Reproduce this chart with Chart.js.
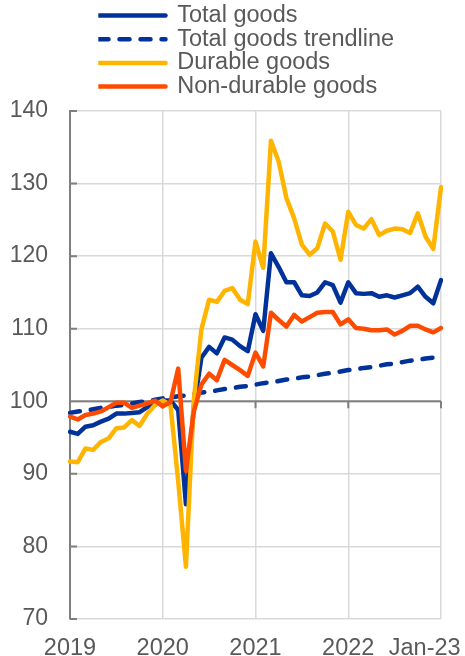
<!DOCTYPE html>
<html>
<head>
<meta charset="utf-8">
<script src="https://cdn.jsdelivr.net/npm/chart.js@4"></script>
<style>
  html, body { margin: 0; padding: 0; background: #fff; }
  #goodsChart { display: block; }
</style>
</head>
<body>
<canvas id="goodsChart" width="465" height="656"></canvas>
<script>
// monthly, Jan 2019 - Jan 2023
const months = [
    'Jan-19', 'Feb-19', 'Mar-19', 'Apr-19', 'May-19', 'Jun-19', 'Jul-19', 'Aug-19', 'Sep-19', 'Oct-19', 'Nov-19', 'Dec-19',
    'Jan-20', 'Feb-20', 'Mar-20', 'Apr-20', 'May-20', 'Jun-20', 'Jul-20', 'Aug-20', 'Sep-20', 'Oct-20', 'Nov-20', 'Dec-20',
    'Jan-21', 'Feb-21', 'Mar-21', 'Apr-21', 'May-21', 'Jun-21', 'Jul-21', 'Aug-21', 'Sep-21', 'Oct-21', 'Nov-21', 'Dec-21',
    'Jan-22', 'Feb-22', 'Mar-22', 'Apr-22', 'May-22', 'Jun-22', 'Jul-22', 'Aug-22', 'Sep-22', 'Oct-22', 'Nov-22', 'Dec-22',
    'Jan-23'
];

const totalGoods = [
    95.8, 95.5, 96.5, 96.7, 97.2, 97.6, 98.3, 98.3, 98.4, 98.5, 99.2, 99.5,
    100.1, 100.1, 98.8, 85.8, 99.0, 106.0, 107.5, 106.6, 108.8, 108.5, 107.6, 106.9,
    112.0, 109.7, 120.4, 118.5, 116.4, 116.4, 114.6, 114.5, 115.0, 116.4, 116.0, 113.6,
    116.4, 114.9, 114.8, 114.9, 114.4, 114.6, 114.3, 114.6, 114.9, 115.8, 114.4, 113.5,
    116.7
];

const totalTrend = [
    98.4, 98.6, 98.7, 98.9, 99.1, 99.2, 99.4, 99.5, 99.7, 99.9, 100.0, 100.2,
    100.4, 100.5, 100.7, 100.8, 101.0, 101.2, 101.3, 101.5, 101.7, 101.8, 102.0, 102.1,
    102.3, 102.5, 102.6, 102.8, 103.0, 103.1, 103.3, 103.4, 103.6, 103.8, 103.9, 104.1,
    104.3, 104.4, 104.6, 104.7, 104.9, 105.1, 105.2, 105.4, 105.6, 105.7, 105.9, 106.0,
    106.2
];

const durableGoods = [
    91.7, 91.6, 93.5, 93.3, 94.4, 94.9, 96.3, 96.4, 97.4, 96.6, 98.3, 99.5,
    100.1, 99.5, 89.0, 77.2, 100.0, 109.9, 114.0, 113.7, 115.2, 115.6, 114.0, 113.4,
    122.0, 118.4, 135.9, 133.0, 128.0, 125.2, 121.6, 120.2, 121.1, 124.5, 123.4, 119.5,
    126.1, 124.3, 123.8, 125.1, 122.9, 123.5, 123.8, 123.7, 123.2, 125.9, 122.7, 121.0,
    129.5
];

const nonDurableGoods = [
    97.9, 97.5, 98.1, 98.3, 98.6, 99.2, 99.8, 99.8, 99.1, 99.4, 99.7, 100.1,
    99.3, 99.9, 104.5, 90.4, 98.5, 102.3, 103.8, 102.9, 105.7, 105.0, 104.3, 103.5,
    106.7, 104.8, 112.2, 111.2, 110.3, 111.9, 111.0, 111.6, 112.2, 112.3, 112.3, 110.6,
    111.3, 110.1, 110.0, 109.8, 109.8, 109.9, 109.2, 109.7, 110.4, 110.4, 109.9, 109.5,
    110.1
];

// x labels only at each January
const tickIdx = [0, 12, 24, 36, 48];
const tickLabels = ['2019', '2020', '2021', '2022', 'Jan-23     '];

const FONT = "'Liberation Sans', Arial, sans-serif";
const TEXT = '#595959';
const AXIS = '#7f7f7f';
const GRID = '#d9d9d9';

// axis line at 100 with ticks pointing down, short inner ticks on the y axis,
// and legend shifted to sit over the plot like the original
const axisPlugin = {
    id: 'axisAt100',
    afterLayout(chart) {
        const lg = chart.legend;
        lg.left += 88.3; lg.right += 88.3;
        lg.top -= 2.65; lg.bottom -= 2.65;
    },
    beforeDatasetsDraw(chart) {
        const { ctx, chartArea, scales: { x, y } } = chart;
        const y100 = y.getPixelForValue(100);
        ctx.save();
        ctx.strokeStyle = AXIS;
        ctx.lineWidth = 2;
        ctx.beginPath();
        ctx.moveTo(chartArea.left, y100);
        ctx.lineTo(chartArea.right, y100);
        tickIdx.forEach(i => {
            const px = x.getPixelForValue(i);
            ctx.moveTo(px, y100);
            ctx.lineTo(px, y100 + 7);
        });
        y.ticks.forEach(t => {
            const py = y.getPixelForValue(t.value);
            ctx.moveTo(chartArea.left, py);
            ctx.lineTo(chartArea.left + 7, py);
        });
        ctx.stroke();
        ctx.restore();
    }
};

const lineStyle = {
    borderWidth: 4.5,
    pointRadius: 0,
    tension: 0,
    borderCapStyle: 'round',
    borderJoinStyle: 'round',
    fill: false
};

const ctx = document.getElementById('goodsChart').getContext('2d');

new Chart(ctx, {
    type: 'line',
    data: {
        labels: months,
        datasets: [
            { ...lineStyle, label: 'Total goods', data: totalGoods, borderColor: '#003299', backgroundColor: '#003299', order: 3 },
            { ...lineStyle, label: 'Total goods trendline', data: totalTrend, borderColor: '#003299', backgroundColor: '#003299', borderDash: [10, 11], order: 2 },
            { ...lineStyle, label: 'Durable goods', data: durableGoods, borderColor: '#ffb400', backgroundColor: '#ffb400', order: 1 },
            { ...lineStyle, label: 'Non-durable goods', data: nonDurableGoods, borderColor: '#ff4b00', backgroundColor: '#ff4b00', order: 0 }
        ]
    },
    options: {
        responsive: false,
        animation: false,
        layout: { padding: { top: 6.2, left: 10, right: 24, bottom: 0 } },
        plugins: {
            legend: {
                position: 'top',
                align: 'start',
                labels: {
                    usePointStyle: true,
                    pointStyle: 'line',
                    pointStyleWidth: 67,
                    padding: 0.2,
                    color: TEXT,
                    font: { family: FONT, size: 23.5 },
                    sort: (a, b) => a.datasetIndex - b.datasetIndex,
                    // point style legends take the point's style, so put the line's back
                    generateLabels: function(chart) {
                        const items = Chart.defaults.plugins.legend.labels.generateLabels(chart);
                        items.forEach(item => {
                            const ds = chart.data.datasets[item.datasetIndex];
                            item.lineWidth = ds.borderWidth;
                            item.lineDash = ds.borderDash || [];
                            item.lineCap = 'round';
                            item.strokeStyle = ds.borderColor;
                        });
                        return items;
                    }
                }
            },
            tooltip: { enabled: false }
        },
        scales: {
            x: {
                border: { display: false },
                grid: {
                    drawTicks: false,
                    lineWidth: 1.5,
                    color: c => (c.index % 12 === 0 && c.index > 0) ? GRID : 'rgba(0,0,0,0)'
                },
                ticks: {
                    autoSkip: false,
                    maxRotation: 0,
                    padding: 15.5,
                    color: TEXT,
                    font: { family: FONT, size: 23.5 },
                    callback: function(value, index) {
                        const k = tickIdx.indexOf(index);
                        return k >= 0 ? tickLabels[k] : '';
                    }
                },
                afterFit: function(scale) {
                    scale.paddingRight = 0;
                    scale.height = 37;
                }
            },
            y: {
                min: 70,
                max: 140,
                border: { color: AXIS, width: 2 },
                grid: { color: GRID, lineWidth: 1.5, drawTicks: false },
                ticks: {
                    stepSize: 10,
                    padding: 22,
                    color: TEXT,
                    font: { family: FONT, size: 23 }
                },
                afterFit: function(scale) {
                    scale.width = 60;
                }
            }
        }
    },
    plugins: [axisPlugin]
});
</script>
</body>
</html>
